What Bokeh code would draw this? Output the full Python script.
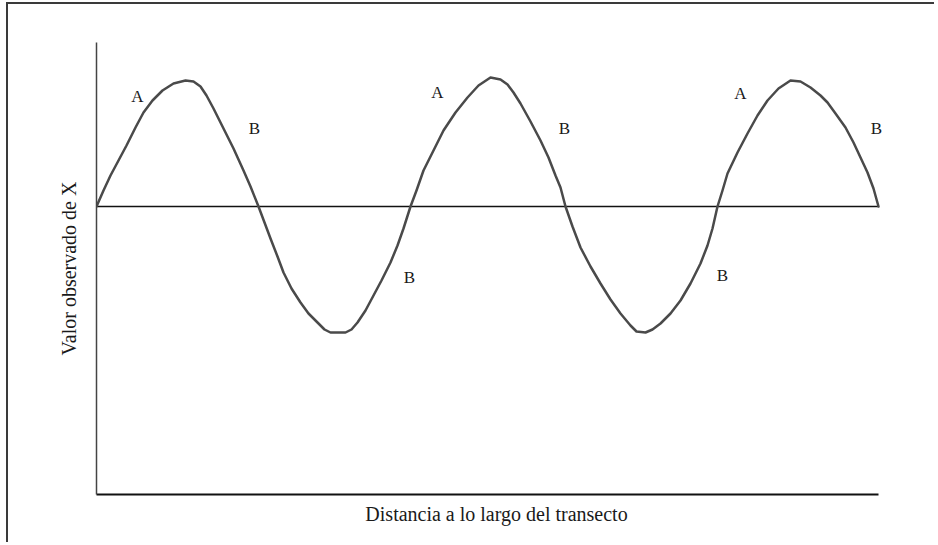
from bokeh.plotting import figure
from bokeh.models import Range1d, ColumnDataSource, FixedTicker, Title
from bokeh.core.properties import value
from bokeh.embed import file_html
from bokeh.resources import INLINE

# distance along the transect (arbitrary units) and observed value of X
distance = [0, 7, 14, 22, 30, 39, 47, 56, 66, 77, 89, 97, 104, 110, 117, 127, 137, 147, 154, 162,
            168, 174, 181, 187, 195, 204, 212, 221, 228, 234, 249, 255, 261, 269, 277, 285, 294, 301, 307, 314,
            320, 327, 337, 347, 359, 371, 382, 394, 404, 411, 417, 424, 434, 444, 452, 459, 464, 469,
            476, 484, 494, 504, 514, 524, 534, 540, 549, 556, 564, 574, 584, 594, 604, 611, 616, 621,
            626, 631, 641, 651, 661, 671, 682, 694, 704, 714, 724, 731, 739, 749, 757, 764, 771, 777, 782]
observed = [0, 16, 31, 46, 61, 79, 94, 106, 116, 123, 126, 125, 120, 111, 98, 78, 58, 36, 20, 0,
            -16, -32, -50, -66, -82, -96, -107, -116, -123, -126, -126, -123, -116, -104, -89, -74, -56, -39, -22, 0,
            16, 36, 56, 76, 94, 109, 121, 129, 127, 122, 114, 103, 85, 66, 49, 31, 19, 0,
            -20, -41, -60, -77, -93, -107, -119, -125, -126, -123, -117, -107, -94, -77, -57, -39, -22, 0,
            16, 33, 54, 73, 91, 106, 118, 126, 125, 119, 111, 104, 93, 79, 64, 49, 34, 18, 0]

label_a_x = [41, 341, 644]
label_a_y = [110, 114, 113]
label_b_x = [158, 468, 780, 313, 626]
label_b_y = [78, 78, 78, -71, -69]

x_title = "Distancia a lo largo del transecto"
y_title = "Valor observado de X"

p = figure(width=928, height=540, output_backend="svg", toolbar_location=None,
           x_range=Range1d(0, 800), y_range=Range1d(-288, 164),
           min_border_left=88, min_border_right=40, min_border_top=38, min_border_bottom=50,
           styles={"border-left": "2px solid #3a3a3a", "border-top": "2px solid #3a3a3a",
                   "margin-left": "6px", "margin-top": "2px"})
p.outline_line_color = None
p.grid.visible = False
p.background_fill_color = "white"
p.border_fill_color = "white"

for ax in (p.xaxis[0], p.yaxis[0]):
    ax.ticker = FixedTicker(ticks=[])
    ax.major_tick_line_color = None
    ax.minor_tick_line_color = None

p.xaxis.bounds = (distance[0], distance[-1])
p.xaxis.axis_line_color = "#111111"
p.xaxis.axis_line_width = 2

p.yaxis.axis_label = y_title
p.yaxis.axis_label_text_font = "Liberation Serif"
p.yaxis.axis_label_text_font_size = "20px"
p.yaxis.axis_label_text_font_style = "normal"
p.yaxis.axis_label_text_color = "#1a1a1a"
p.yaxis.axis_line_color = "#444444"
p.yaxis.axis_line_width = 1.5
p.yaxis.axis_label_standoff = 17

p.add_layout(Title(text=x_title, align="center", text_font="Liberation Serif",
                   text_font_size="20px", text_font_style="normal", text_color="#1a1a1a",
                   standoff=13), "below")

# zero reference line along the transect
p.line([distance[0], distance[-1]], [0, 0], line_color="#111111", line_width=1.5)

p.line(distance, observed, line_color="#4a4a4a", line_width=2.5, line_join="round", line_cap="round")

src_a = ColumnDataSource(dict(x=label_a_x, y=label_a_y, t=["A"] * len(label_a_x)))
src_b = ColumnDataSource(dict(x=label_b_x, y=label_b_y, t=["B"] * len(label_b_x)))
for src in (src_a, src_b):
    p.text("x", "y", text="t", source=src, text_font=value("Liberation Serif"),
           text_font_size="17px", text_align="center", text_baseline="middle", text_color="#1a1a1a")

open("out.html", "w").write(file_html(p, INLINE))
